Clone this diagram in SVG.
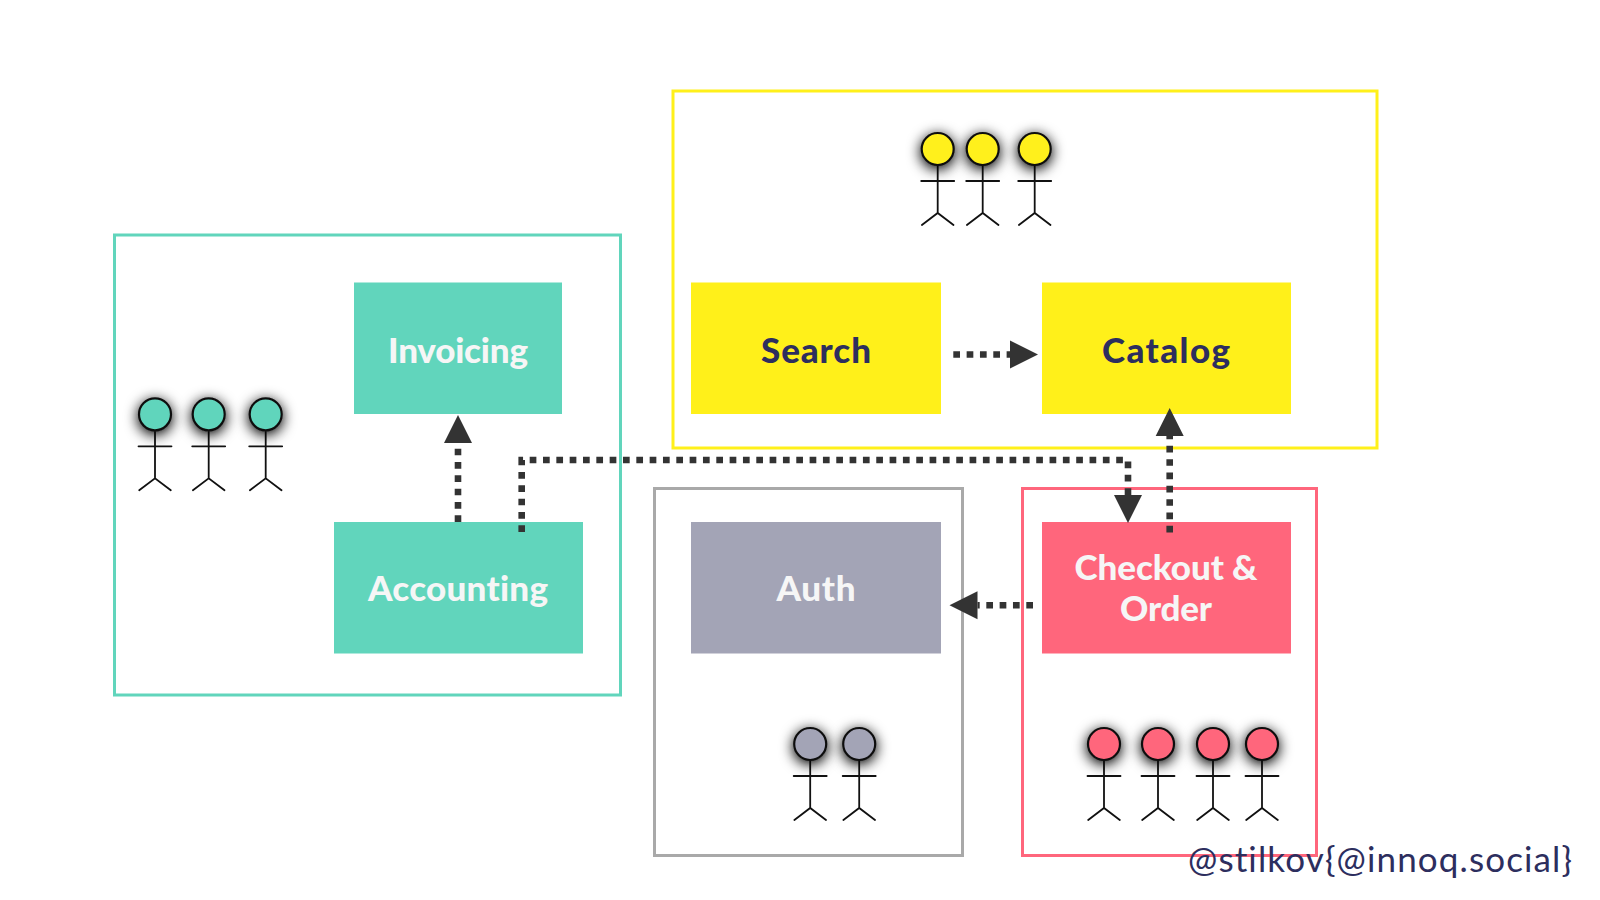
<svg xmlns="http://www.w3.org/2000/svg" xmlns:xlink="http://www.w3.org/1999/xlink" width="1600" height="900" viewBox="0 0 1600 900">
<style>
.frame{fill:none;stroke-width:3}
.box{stroke:none}
.lbl{font-family:"Lato","Liberation Sans",sans-serif;font-weight:900;font-size:35px;text-anchor:middle;font-variant-ligatures:none}
.lt{fill:#f6f6f6}
.dk{fill:#2d2e5e}
.edge{fill:none;stroke:#333;stroke-width:6.6;stroke-dasharray:6.7 6.63}
.limb{fill:none;stroke:#111;stroke-width:1.8;stroke-linecap:round}
.head{stroke:#111;stroke-width:2.2}
.teal{fill:#61d5bc}.yellow{fill:#fff01a}.gray{fill:#a3a4b6}.red{fill:#ff667c}
</style>
<defs>
<filter id="sh" x="-100%" y="-100%" width="300%" height="300%"><feGaussianBlur in="SourceAlpha" stdDeviation="7"/><feOffset dy="3"/><feComponentTransfer><feFuncA type="linear" slope="1.1"/></feComponentTransfer><feMerge><feMergeNode/><feMergeNode in="SourceGraphic"/></feMerge></filter>
<marker id="ah" markerUnits="userSpaceOnUse" markerWidth="30" markerHeight="30" refX="0" refY="15" orient="auto"><path d="M0 1L28 15L0 29Z" fill="#333"/></marker>
<g id="body"><path class="limb" d="M0 16V64M-16.500 32H16.500M-15.800 76L0 64L15.800 76"/></g>
</defs>
<rect width="1600" height="900" fill="#fff"/>
<g id="team-yellow"><rect class="frame" x="673" y="91" width="704" height="357" stroke="#fff01a"/>
<g id="actors-yellow"><use xlink:href="#body" x="937.700" y="149"/><circle class="head yellow" cx="937.700" cy="149" r="16" filter="url(#sh)"/><use xlink:href="#body" x="982.700" y="149"/><circle class="head yellow" cx="982.700" cy="149" r="16" filter="url(#sh)"/><use xlink:href="#body" x="1034.700" y="149"/><circle class="head yellow" cx="1034.700" cy="149" r="16" filter="url(#sh)"/></g></g>
<g id="team-teal"><rect class="frame" x="114.500" y="235" width="506" height="460" stroke="#61d5bc"/>
<g id="actors-teal"><use xlink:href="#body" x="155" y="414.300"/><circle class="head teal" cx="155" cy="414.300" r="16" filter="url(#sh)"/><use xlink:href="#body" x="208.700" y="414.300"/><circle class="head teal" cx="208.700" cy="414.300" r="16" filter="url(#sh)"/><use xlink:href="#body" x="265.700" y="414.300"/><circle class="head teal" cx="265.700" cy="414.300" r="16" filter="url(#sh)"/></g></g>
<g id="team-gray"><rect class="frame" x="654.500" y="488.500" width="308" height="367" stroke="#a9a9a9"/>
<g id="actors-gray"><use xlink:href="#body" x="810.200" y="744"/><circle class="head gray" cx="810.200" cy="744" r="16" filter="url(#sh)"/><use xlink:href="#body" x="859.200" y="744"/><circle class="head gray" cx="859.200" cy="744" r="16" filter="url(#sh)"/></g></g>
<g id="team-red"><rect class="frame" x="1022.500" y="488.500" width="294" height="367" stroke="#ff667c"/>
<g id="actors-red"><use xlink:href="#body" x="1104" y="744"/><circle class="head red" cx="1104" cy="744" r="16" filter="url(#sh)"/><use xlink:href="#body" x="1158" y="744"/><circle class="head red" cx="1158" cy="744" r="16" filter="url(#sh)"/><use xlink:href="#body" x="1213" y="744"/><circle class="head red" cx="1213" cy="744" r="16" filter="url(#sh)"/><use xlink:href="#body" x="1262" y="744"/><circle class="head red" cx="1262" cy="744" r="16" filter="url(#sh)"/></g></g>
<g id="invoicing"><rect class="box teal" x="354" y="282.500" width="208" height="131.500"/><text class="lbl lt" x="458" y="363" textLength="140">Invoicing</text></g>
<g id="accounting"><rect class="box teal" x="334" y="522" width="249" height="131.500"/><text class="lbl lt" x="458" y="601" textLength="180">Accounting</text></g>
<g id="search"><rect class="box yellow" x="691" y="282.500" width="250" height="131.500"/><text class="lbl dk" x="816" y="363" textLength="110">Search</text></g>
<g id="catalog"><rect class="box yellow" x="1042" y="282.500" width="249" height="131.500"/><text class="lbl dk" x="1166" y="363" textLength="128">Catalog</text></g>
<g id="auth"><rect class="box gray" x="691" y="522" width="250" height="131.500"/><text class="lbl lt" x="816" y="601" textLength="79">Auth</text></g>
<g id="checkout"><rect class="box red" x="1042" y="522" width="249" height="131.500"/><text class="lbl lt" x="1166" y="580" textLength="183">Checkout &amp;</text><text class="lbl lt" x="1166" y="621" textLength="92">Order</text></g>
<g id="connectors">
<path class="edge" marker-end="url(#ah)" d="M953.300 354.500H1010"/>
<path class="edge" marker-end="url(#ah)" d="M1169.700 532.500V436"/>
<path class="edge" marker-end="url(#ah)" d="M458 522V443"/>
<path class="edge" marker-end="url(#ah)" d="M521.700 532V460H1128V495"/>
<path class="edge" marker-end="url(#ah)" d="M1033 605.300H977.500"/>
</g>
<text id="credit" x="1188" y="872" font-family="Lato,'Liberation Sans',sans-serif" font-size="35" font-weight="400" fill="#2d2e5e" textLength="384" lengthAdjust="spacing" style="font-variant-ligatures:none">@stilkov{@innoq.social}</text>
</svg>
